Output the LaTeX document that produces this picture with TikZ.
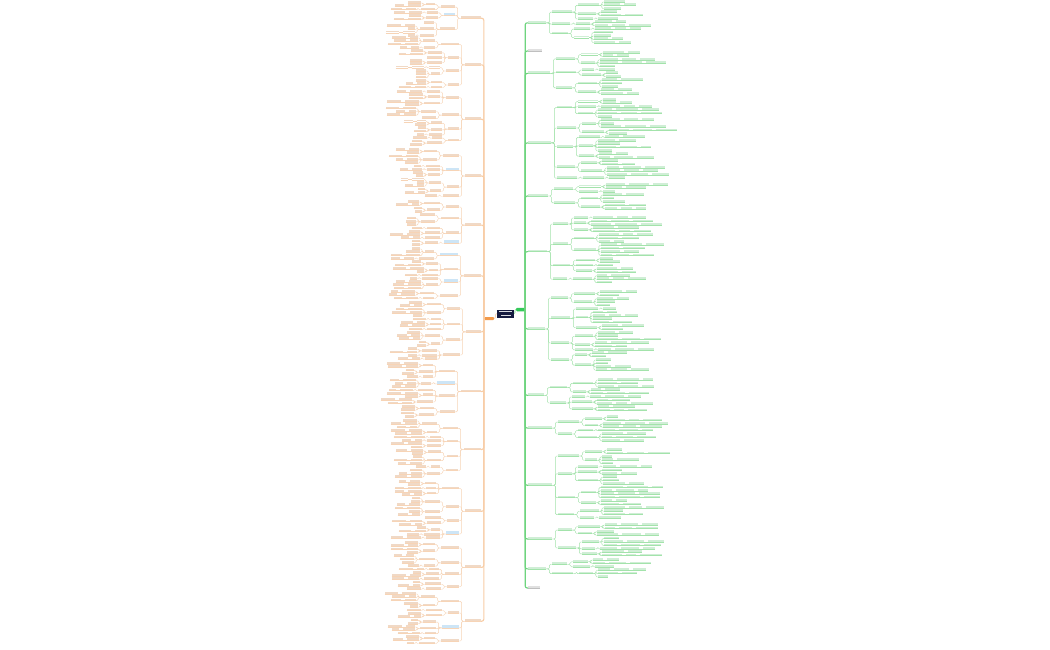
\documentclass[tikz,border=0pt]{standalone}
\definecolor{gline}{HTML}{A3E3AB}
\definecolor{gspine}{HTML}{6ED47E}
\definecolor{gtext}{HTML}{D0EED6}
\definecolor{oline}{HTML}{F7D4B6}
\definecolor{ospine}{HTML}{F8CDA6}
\definecolor{otext}{HTML}{F0D9C6}
\definecolor{hblue}{HTML}{CDE5F6}
\definecolor{navy}{HTML}{161B40}
\definecolor{ofill}{HTML}{F39A4B}
\definecolor{gfill}{HTML}{35C95A}
\tikzset{
  tn/.style={rectangle,inner sep=0pt,minimum height=1.7pt,fill=\tc},
  hn/.style={rectangle,inner sep=0pt,minimum height=2.6pt,fill=hblue},
  ul/.style={draw=\lc,line width=0.35pt},
  cn/.style={draw=\lc,line width=0.4pt,rounded corners=1.2pt},
  spl/.style={draw=\spc,line width=1.1pt,rounded corners=2pt},
}
\newcount\nid
\def\newid{\global\advance\nid by 1\relax\xdef\curid{n\the\nid}}
\newcommand\addkid[2]{\ifx#1\empty\xdef#1{#2}\else\xdef#1{#1,#2}\fi}
\newcommand\setfy[3]{\ifx#1\empty\xdef#1{#3}\fi\xdef#2{#3}}
\newcommand\advcy{\pgfmathsetmacro\tmpy{\cy+\pitch}\xdef\cy{\tmpy}}
\newcommand\mknode[5][tn]{\node[#1,minimum width=#5,anchor=\ca] (#2) at (#3,#4) {};\draw[ul] (#2.south west) -- (#2.south east);}
\newcommand\mkrow{%
  \pgfmathtruncatemacro\nb{random(1,\chainMax)}%
  \xdef\rx{\xD}\gdef\previd{}%
  \foreach \jj in {1,...,\nb}{%
    \newid
    \pgfmathtruncatemacro\ww{random(\dMin,\dMax)}%
    \mknode{\curid}{\rx}{\cy}{\ww}%
    \ifx\previd\empty\addkid\kidsC{\curid}\else\draw[cn] (\previd.\pa) -- (\curid.\ca);\fi
    \xdef\previd{\curid}%
    \pgfmathsetmacro\tmpx{\rx+\dir*(\ww+4)}\xdef\rx{\tmpx}%
  }%
  \advcy}
\newcommand\levC[1]{%
  \newid\xdef\idC{\curid}%
  \pgfmathtruncatemacro\wc{random(\cMin,\cMax)}%
  \ifnum#1=0\relax
    \xdef\yC{\cy}\advcy
  \else
    \pgfmathsetmacro\tmpx{\xC+\dir*(\wc+5)}\xdef\xD{\tmpx}%
    \xdef\fyC{\cy}\gdef\kidsC{}%
    \foreach \rr in {1,...,#1}{\mkrow}%
    \pgfmathsetmacro\tmpy{(\fyC+\cy-\pitch)/2}\xdef\yC{\tmpy}%
  \fi
  \mknode{\idC}{\xC}{\yC}{\wc}%
  \ifnum#1>0\relax
    \foreach \cc in \kidsC {\draw[cn] (\idC.\pa) -- ++(\dir*2.5,0) |- (\cc.\ca);}%
  \fi
  \addkid\kidsB{\idC}\setfy\fyB\lyB{\yC}}
\newcommand\levB[1]{%
  \newid\xdef\idB{\curid}%
  \pgfmathtruncatemacro\wb{random(\bMin,\bMax)}%
  \pgfmathtruncatemacro\hl{random(1,10)}%
  \pgfmathsetmacro\tmpx{\xB+\dir*(\wb+6)}\xdef\xC{\tmpx}%
  \gdef\kidsB{}\gdef\fyB{}%
  \edef\tmpl{#1}%
  \foreach \kk in \tmpl {\levC{\kk}}%
  \pgfmathsetmacro\yb{(\fyB+\lyB)/2}%
  \ifnum\hl=1\relax\mknode[hn]{\idB}{\xB}{\yb}{\wb}\else\mknode{\idB}{\xB}{\yb}{\wb}\fi
  \foreach \cc in \kidsB {\draw[cn] (\idB.\pa) -- ++(\dir*3,0) |- (\cc.\ca);}%
  \addkid\kidsA{\idB}\setfy\fyA\lyA{\yb}}
\newcommand\branch[2]{%
  \xdef\cy{#1}%
  \newid\xdef\idA{\curid}%
  \pgfmathtruncatemacro\wa{random(\aMin,\aMax)}%
  \pgfmathsetmacro\tmpx{\spx+\dir*3}\xdef\xA{\tmpx}%
  \pgfmathsetmacro\tmpx{\xA+\dir*(\wa+6)}\xdef\xB{\tmpx}%
  \gdef\kidsA{}\gdef\fyA{}%
  \foreach \LL in {#2}{\levB{\LL}}%
  \pgfmathsetmacro\ya{(\fyA+\lyA)/2}%
  \mknode{\idA}{\xA}{\ya}{\wa}%
  \draw[spl] (\rootn.\ra) |- (\idA.\ca);
  \foreach \cc in \kidsA {\draw[cn] (\idA.\pa) -- ++(\dir*3,0) |- (\cc.\ca);}%
}
\newcommand\setleft{\gdef\dir{-1}\gdef\pa{south west}\gdef\ca{south east}%
  \gdef\lc{oline}\gdef\tc{otext}\gdef\spc{ospine}\gdef\spx{484}\gdef\rootn{rootO}\gdef\ra{west}%
  \gdef\pitch{3.3}\gdef\aMin{13}\gdef\aMax{20}\gdef\bMin{11}\gdef\bMax{18}%
  \gdef\cMin{9}\gdef\cMax{16}\gdef\dMin{7}\gdef\dMax{14}\gdef\chainMax{2}}
\newcommand\setright{\gdef\dir{1}\gdef\pa{south east}\gdef\ca{south west}%
  \gdef\lc{gline}\gdef\tc{gtext}\gdef\spc{gspine}\gdef\spx{525}\gdef\rootn{rootG}\gdef\ra{east}%
  \gdef\pitch{3.4}\gdef\aMin{16}\gdef\aMax{24}\gdef\bMin{14}\gdef\bMax{22}%
  \gdef\cMin{12}\gdef\cMax{22}\gdef\dMin{10}\gdef\dMax{22}\gdef\chainMax{3}}
\begin{document}
\begin{tikzpicture}[x=1pt,y=-1pt]
\useasboundingbox (0,0) rectangle (1050,650);
\fill[white] (0,0) rectangle (1050,650);
\pgfmathsetseed{11}
% centre
\node[fill=navy,minimum width=17pt,minimum height=8pt,inner sep=0pt] (ctr) at (505.5,313.5) {};
\fill[white!85!navy] (499,311.4) rectangle (512,312.4);
\fill[white!85!navy] (500.5,314.6) rectangle (510.5,315.6);
\node[fill=ofill,rounded corners=1pt,minimum width=10pt,minimum height=3pt,inner sep=0pt] (rootO) at (489,318.5) {};
\node[fill=gfill,rounded corners=1pt,minimum width=9pt,minimum height=3.5pt,inner sep=0pt] (rootG) at (520.5,309.5) {};
\draw[ospine,line width=0.6pt] (ctr.west) to[out=180,in=0] (rootO.east);
\draw[gspine,line width=0.6pt] (ctr.east) to[out=0,in=180] (rootG.west);
% left side
\setleft
\branch{3}{{2,1},{1,2},{0,3,1}}
\branch{38}{{3,1},{2,0,2},{1,3},{2,1}}
\branch{92}{{1,2,2},{3,0},{2,2,1},{1,2}}
\branch{150}{{2,3},{1,1,2},{3,2},{0}}
\branch{202}{{2,2},{0,3},{1,2,1},{2}}
\branch{249}{{3,1},{2,2,1},{1,3},{2,1}}
\branch{303}{{2,3},{1,2,1},{3,2},{2,1,1}}
\branch{364}{{2,2,1},{3},{1,2,2},{2,2}}
\branch{421}{{3,2},{1,1,2},{2,3},{1,3}}
\branch{482}{{2,1,2},{3,3},{0,2},{2,1,1}}
\branch{543}{{2,2},{3,1},{1,2,1},{2,1}}
\branch{594}{{3,2},{1,2},{2,2,1},{2,1}}
% right side
\setright
\branch{2}{{3,2,1},{2},{1,4}}
\branch{53}{{2,3},{1,2},{3,2}}
\branch{100}{{2,1,3},{3,2},{1,4,2},{2,3},{1}}
\branch{185}{{2,1},{3,2}}
\branch{218}{{1,2,2},{3,4},{2,1,2},{3}}
\branch{292}{{2,3},{1,4,2},{3,2,1},{2,4}}
\branch{380}{{3,2},{1,2,2}}
\branch{417}{{2,2},{1,3}}
\branch{450}{{2,3},{1,2,3},{4,2},{3,1}}
\branch{525}{{2,2},{3,1,2}}
\branch{560}{{2,1},{3}}
\node[rectangle,inner sep=0pt,minimum height=1.7pt,fill=black!12,minimum width=14pt,anchor=south west] (gA) at (528,51) {};
\draw[black!25,line width=0.35pt] (gA.south west) -- (gA.south east);
\draw[spl] (rootG.east) |- (gA.south west);
\node[rectangle,inner sep=0pt,minimum height=1.7pt,fill=black!12,minimum width=12pt,anchor=south west] (gB) at (528,588) {};
\draw[black!25,line width=0.35pt] (gB.south west) -- (gB.south east);
\draw[spl] (rootG.east) |- (gB.south west);
\end{tikzpicture}
\end{document}
